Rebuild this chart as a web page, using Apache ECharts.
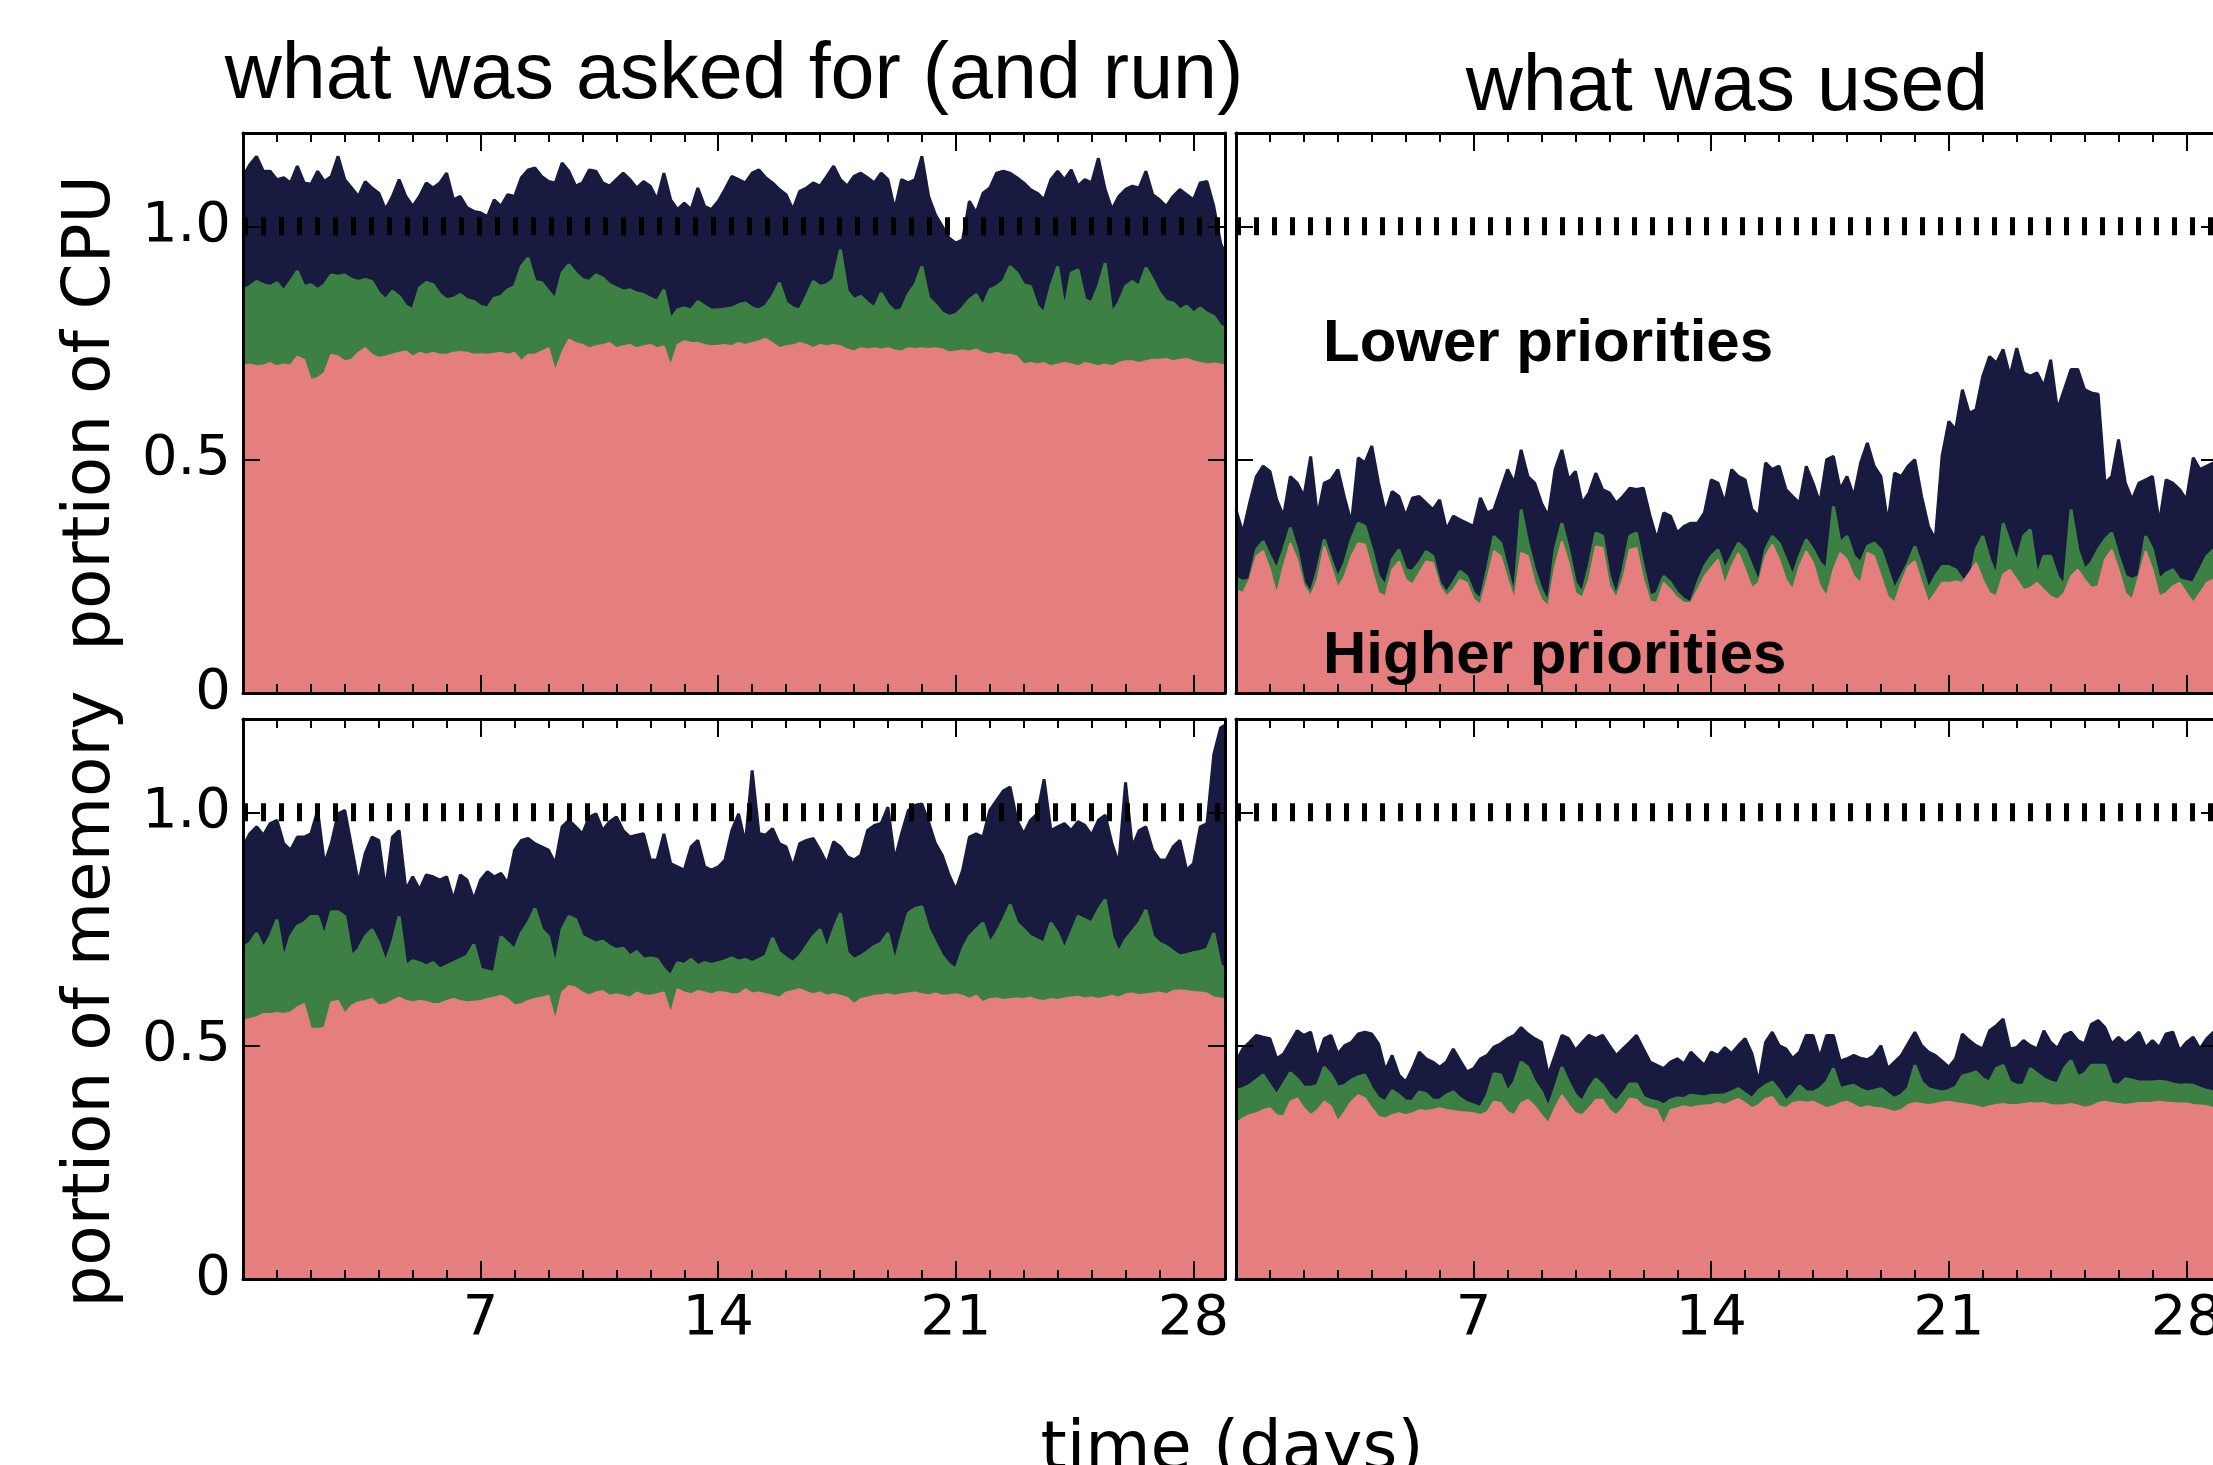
<!DOCTYPE html>
<html>
<head>
<meta charset="utf-8">
<script src="https://cdn.jsdelivr.net/npm/echarts@6/dist/echarts.min.js"></script>
<style>
html,body{margin:0;padding:0;background:#fff;overflow:hidden;}
#c{width:2213px;height:1465px;}
</style>
</head>
<body>
<div id="c"></div>
<script>
// ---------------- DATA ----------------
// sample step of the series: 0.2 day, from day 0 to day 29
const SAMPLE_STEP = 0.2;
const SAMPLE_COUNT = 146;
const days = Array.from({length: SAMPLE_COUNT}, (_, i) => +(i * SAMPLE_STEP).toFixed(1));

const xTickDays = [7, 14, 21, 28];
const yTickValues = [0, 0.5, 1.0];
const yTickLabels = ['0', '0.5', '1.0'];
const referenceLevel = 1.0;

const panelTitles = ['what was asked for (and run)', 'what was used'];
const rowLabels = ['portion of CPU', 'portion of memory'];
const xLabel = 'time (days)';
const bandLabels = ['Lower priorities', 'Higher priorities'];

// Top-left: CPU asked for — cumulative tops of each band
const cpuAskedLow = [
1.107,1.132,1.15,1.118,1.118,1.10,1.104,1.093,1.129,1.093,
1.09,1.118,1.096,1.107,1.15,1.1,1.082,1.064,1.096,1.082,
1.071,1.036,1.064,1.1,1.064,1.043,1.064,1.093,1.082,1.093,
1.114,1.057,1.064,1.04,1.032,1.029,1.021,1.057,1.043,1.068,
1.064,1.104,1.121,1.125,1.107,1.096,1.093,1.136,1.118,1.086,
1.093,1.121,1.118,1.093,1.086,1.1,1.114,1.1,1.082,1.096,
1.086,1.057,1.114,1.057,1.036,1.05,1.036,1.082,1.043,1.036,
1.054,1.079,1.107,1.1,1.093,1.114,1.121,1.104,1.093,1.079,
1.068,1.036,1.075,1.082,1.093,1.086,1.107,1.129,1.1,1.086,
1.107,1.114,1.104,1.093,1.114,1.1,1.036,1.1,1.093,1.1,
1.15,1.064,1.025,1.0,0.975,0.964,0.971,1.054,1.029,1.071,
1.082,1.114,1.118,1.114,1.104,1.093,1.079,1.071,1.057,1.1,
1.118,1.1,1.121,1.086,1.1,1.093,1.146,1.079,1.036,1.064,
1.079,1.086,1.082,1.118,1.068,1.057,1.043,1.064,1.079,1.068,
1.057,1.093,1.096,1.043,0.964,0.929];
const cpuAskedMid = [
0.864,0.871,0.882,0.875,0.871,0.879,0.861,0.882,0.904,0.871,
0.875,0.864,0.875,0.896,0.893,0.896,0.886,0.882,0.886,0.882,
0.857,0.843,0.861,0.85,0.829,0.821,0.868,0.88,0.875,0.854,
0.843,0.846,0.854,0.843,0.839,0.829,0.825,0.846,0.85,0.864,
0.871,0.914,0.932,0.882,0.879,0.861,0.843,0.9,0.918,0.9,
0.886,0.882,0.896,0.889,0.875,0.868,0.861,0.864,0.857,0.854,
0.846,0.839,0.864,0.8,0.821,0.825,0.821,0.839,0.829,0.82,
0.821,0.823,0.825,0.832,0.836,0.825,0.821,0.829,0.85,0.879,
0.836,0.825,0.821,0.85,0.882,0.871,0.875,0.886,0.95,0.861,
0.843,0.85,0.836,0.825,0.857,0.832,0.818,0.821,0.854,0.875,
0.914,0.846,0.832,0.814,0.807,0.811,0.825,0.843,0.854,0.829,
0.864,0.871,0.882,0.914,0.9,0.875,0.871,0.829,0.814,0.871,
0.914,0.821,0.9,0.907,0.843,0.836,0.871,0.921,0.814,0.836,
0.871,0.882,0.871,0.911,0.886,0.857,0.839,0.836,0.821,0.829,
0.814,0.825,0.814,0.807,0.786,0.779];
const cpuAskedHigh = [
0.701,0.704,0.7,0.702,0.707,0.7,0.704,0.702,0.721,0.714,
0.671,0.675,0.686,0.725,0.721,0.711,0.714,0.729,0.739,0.725,
0.718,0.721,0.725,0.729,0.732,0.721,0.729,0.725,0.729,0.725,
0.725,0.729,0.731,0.729,0.725,0.726,0.725,0.727,0.729,0.725,
0.729,0.711,0.725,0.725,0.732,0.739,0.689,0.729,0.757,0.75,
0.746,0.739,0.743,0.746,0.75,0.739,0.743,0.746,0.739,0.743,
0.746,0.739,0.743,0.7,0.746,0.754,0.75,0.75,0.746,0.743,
0.744,0.746,0.743,0.75,0.746,0.75,0.754,0.759,0.75,0.739,
0.743,0.745,0.75,0.746,0.739,0.746,0.743,0.746,0.743,0.736,
0.732,0.739,0.736,0.739,0.736,0.739,0.734,0.732,0.739,0.737,
0.739,0.737,0.739,0.736,0.73,0.732,0.734,0.732,0.736,0.729,
0.725,0.729,0.725,0.725,0.721,0.704,0.707,0.704,0.707,0.7,
0.704,0.707,0.704,0.7,0.707,0.704,0.7,0.704,0.7,0.707,
0.711,0.711,0.707,0.711,0.714,0.714,0.716,0.711,0.714,0.716,
0.711,0.707,0.704,0.706,0.704,0.701];

// Top-right: CPU used
const cpuUsedLow = [
0.393,0.343,0.407,0.464,0.486,0.475,0.414,0.379,0.464,0.45,
0.421,0.507,0.379,0.45,0.457,0.479,0.418,0.364,0.504,0.493,
0.529,0.45,0.386,0.432,0.421,0.379,0.418,0.421,0.407,0.393,
0.414,0.35,0.379,0.371,0.364,0.357,0.418,0.386,0.393,0.436,
0.479,0.45,0.521,0.464,0.45,0.407,0.379,0.479,0.521,0.457,
0.475,0.407,0.429,0.471,0.436,0.429,0.407,0.421,0.439,0.436,
0.439,0.379,0.329,0.386,0.379,0.343,0.357,0.364,0.364,0.386,
0.457,0.45,0.407,0.479,0.464,0.457,0.393,0.379,0.493,0.479,
0.486,0.436,0.421,0.407,0.486,0.45,0.407,0.5,0.507,0.436,
0.464,0.421,0.493,0.536,0.486,0.464,0.364,0.471,0.464,0.486,
0.5,0.421,0.357,0.329,0.507,0.582,0.564,0.65,0.6,0.607,
0.679,0.721,0.707,0.736,0.679,0.739,0.686,0.679,0.686,0.657,
0.714,0.607,0.65,0.693,0.693,0.65,0.643,0.64,0.45,0.464,
0.543,0.45,0.414,0.45,0.457,0.464,0.364,0.457,0.45,0.436,
0.414,0.504,0.479,0.486,0.493,0.464];
const cpuUsedMid = [
0.246,0.239,0.243,0.307,0.325,0.293,0.264,0.307,0.354,0.307,
0.236,0.214,0.264,0.329,0.286,0.246,0.279,0.329,0.364,0.357,
0.307,0.25,0.229,0.286,0.307,0.264,0.261,0.279,0.303,0.293,
0.236,0.214,0.236,0.261,0.25,0.214,0.2,0.264,0.336,0.321,
0.264,0.207,0.393,0.321,0.264,0.221,0.193,0.307,0.364,0.307,
0.236,0.214,0.271,0.343,0.336,0.25,0.207,0.264,0.336,0.343,
0.271,0.207,0.214,0.25,0.236,0.214,0.2,0.193,0.236,0.271,
0.293,0.307,0.264,0.293,0.321,0.307,0.271,0.236,0.307,0.336,
0.321,0.286,0.25,0.293,0.329,0.307,0.279,0.264,0.4,0.321,
0.336,0.293,0.279,0.314,0.321,0.307,0.264,0.221,0.25,0.279,
0.314,0.271,0.221,0.25,0.271,0.271,0.264,0.243,0.229,0.307,
0.336,0.286,0.25,0.364,0.321,0.279,0.336,0.35,0.25,0.293,
0.293,0.25,0.229,0.393,0.307,0.264,0.279,0.307,0.329,0.343,
0.293,0.25,0.243,0.25,0.336,0.307,0.243,0.257,0.264,0.243,
0.239,0.236,0.264,0.293,0.307,0.293];
const cpuUsedHigh = [
0.221,0.214,0.243,0.293,0.304,0.264,0.211,0.271,0.321,0.286,
0.229,0.207,0.243,0.314,0.271,0.225,0.25,0.293,0.321,0.318,
0.264,0.214,0.207,0.264,0.282,0.243,0.232,0.257,0.282,0.279,
0.229,0.207,0.221,0.243,0.236,0.2,0.189,0.243,0.304,0.293,
0.243,0.2,0.3,0.293,0.236,0.2,0.186,0.271,0.325,0.279,
0.214,0.204,0.243,0.314,0.311,0.229,0.204,0.243,0.307,0.311,
0.243,0.196,0.193,0.236,0.221,0.204,0.193,0.193,0.221,0.25,
0.268,0.286,0.232,0.271,0.3,0.264,0.225,0.236,0.293,0.318,
0.286,0.243,0.221,0.271,0.304,0.279,0.229,0.207,0.264,0.3,
0.286,0.25,0.236,0.3,0.293,0.25,0.207,0.193,0.236,0.271,
0.282,0.236,0.193,0.214,0.236,0.236,0.239,0.236,0.257,0.279,
0.243,0.214,0.207,0.254,0.264,0.243,0.221,0.225,0.236,0.221,
0.207,0.2,0.214,0.25,0.264,0.243,0.225,0.229,0.286,0.307,
0.264,0.214,0.2,0.25,0.304,0.264,0.207,0.214,0.229,0.236,
0.214,0.193,0.214,0.236,0.243,0.236];

// Bottom-left: memory asked for
const memAskedLow = [
0.926,0.954,0.969,0.951,0.976,0.983,0.933,0.919,0.947,0.947,
0.954,1.004,0.89,0.933,0.997,1.004,0.926,0.848,0.912,0.947,
0.94,0.834,0.947,0.961,0.834,0.862,0.834,0.866,0.862,0.855,
0.862,0.813,0.866,0.855,0.813,0.855,0.873,0.862,0.869,0.848,
0.919,0.94,0.944,0.933,0.926,0.919,0.89,0.969,0.983,0.969,
0.954,0.99,0.997,0.961,0.98,0.99,0.961,0.947,0.951,0.954,
0.898,0.898,0.954,0.89,0.883,0.876,0.926,0.94,0.883,0.876,
0.883,0.898,0.961,0.997,0.933,1.09,0.955,0.951,0.965,0.933,
0.926,0.883,0.933,0.94,0.944,0.919,0.89,0.937,0.926,0.905,
0.898,0.908,0.961,0.972,0.976,1.011,0.898,0.954,1.004,1.015,
1.018,0.979,0.933,0.908,0.866,0.834,0.876,0.947,0.954,0.947,
1.004,1.025,1.046,1.054,0.983,0.954,0.983,0.997,1.071,0.961,
0.969,0.976,0.961,0.98,0.972,0.951,0.983,0.994,0.933,0.89,
1.064,0.926,0.961,0.969,0.919,0.898,0.898,0.926,0.94,0.876,
0.89,0.969,0.976,1.124,1.181,1.19];
const memAskedMid = [
0.709,0.72,0.741,0.709,0.734,0.77,0.685,0.734,0.756,0.763,
0.777,0.777,0.734,0.787,0.787,0.777,0.692,0.706,0.734,0.749,
0.72,0.678,0.72,0.777,0.671,0.682,0.678,0.671,0.678,0.664,
0.671,0.678,0.685,0.692,0.717,0.664,0.66,0.657,0.734,0.72,
0.706,0.741,0.763,0.794,0.749,0.734,0.671,0.749,0.777,0.77,
0.734,0.727,0.72,0.724,0.713,0.706,0.709,0.692,0.702,0.685,
0.688,0.685,0.664,0.649,0.678,0.674,0.685,0.671,0.678,0.674,
0.678,0.682,0.688,0.681,0.685,0.678,0.685,0.692,0.731,0.699,
0.688,0.678,0.692,0.713,0.734,0.749,0.706,0.749,0.784,0.699,
0.685,0.692,0.702,0.713,0.72,0.741,0.678,0.734,0.784,0.794,
0.798,0.749,0.72,0.692,0.674,0.664,0.706,0.734,0.749,0.763,
0.72,0.741,0.77,0.802,0.763,0.749,0.734,0.727,0.72,0.763,
0.741,0.706,0.741,0.777,0.77,0.763,0.791,0.813,0.734,0.699,
0.727,0.745,0.763,0.791,0.734,0.72,0.713,0.702,0.692,0.695,
0.699,0.702,0.706,0.741,0.671,0.664];
const memAskedHigh = [
0.554,0.557,0.561,0.568,0.568,0.57,0.568,0.571,0.582,0.589,
0.536,0.536,0.539,0.593,0.596,0.568,0.586,0.593,0.596,0.6,
0.586,0.589,0.596,0.603,0.596,0.593,0.596,0.594,0.589,0.59,
0.596,0.6,0.596,0.593,0.594,0.596,0.6,0.603,0.607,0.6,
0.586,0.589,0.596,0.6,0.603,0.607,0.554,0.614,0.628,0.624,
0.614,0.607,0.614,0.617,0.607,0.61,0.607,0.603,0.614,0.608,
0.607,0.61,0.614,0.568,0.621,0.614,0.61,0.617,0.614,0.61,
0.615,0.614,0.61,0.61,0.621,0.612,0.614,0.61,0.607,0.603,
0.614,0.617,0.621,0.615,0.61,0.614,0.607,0.61,0.607,0.603,
0.589,0.6,0.603,0.607,0.608,0.61,0.607,0.61,0.612,0.614,
0.61,0.608,0.612,0.607,0.608,0.61,0.607,0.6,0.607,0.593,
0.6,0.601,0.598,0.6,0.601,0.6,0.603,0.598,0.596,0.6,
0.598,0.601,0.603,0.605,0.601,0.603,0.6,0.603,0.607,0.603,
0.61,0.612,0.608,0.61,0.612,0.614,0.61,0.617,0.619,0.617,
0.615,0.614,0.612,0.603,0.601,0.6];

// Bottom-right: memory used
const memUsedLow = [
0.465,0.493,0.507,0.522,0.518,0.515,0.472,0.482,0.507,0.532,
0.522,0.529,0.472,0.515,0.522,0.482,0.5,0.507,0.525,0.529,
0.525,0.504,0.447,0.479,0.437,0.422,0.451,0.486,0.472,0.465,
0.454,0.465,0.493,0.468,0.444,0.451,0.472,0.479,0.497,0.504,
0.515,0.522,0.539,0.525,0.515,0.507,0.437,0.479,0.522,0.515,
0.49,0.507,0.522,0.515,0.522,0.5,0.479,0.493,0.507,0.522,
0.493,0.465,0.458,0.451,0.465,0.472,0.461,0.486,0.472,0.458,
0.486,0.479,0.496,0.483,0.5,0.515,0.483,0.422,0.507,0.529,
0.5,0.493,0.473,0.486,0.522,0.522,0.475,0.522,0.522,0.467,
0.472,0.479,0.473,0.47,0.479,0.5,0.451,0.465,0.479,0.504,
0.529,0.5,0.486,0.479,0.467,0.454,0.472,0.525,0.511,0.5,
0.493,0.532,0.543,0.557,0.493,0.496,0.511,0.5,0.493,0.532,
0.507,0.494,0.522,0.529,0.511,0.504,0.546,0.554,0.539,0.504,
0.518,0.504,0.515,0.529,0.496,0.511,0.496,0.525,0.529,0.489,
0.507,0.518,0.493,0.515,0.529,0.507];
const memUsedMid = [
0.404,0.408,0.415,0.426,0.437,0.415,0.394,0.418,0.442,0.429,
0.411,0.411,0.415,0.454,0.437,0.411,0.415,0.426,0.433,0.437,
0.408,0.387,0.38,0.404,0.394,0.381,0.381,0.401,0.397,0.383,
0.383,0.394,0.401,0.387,0.378,0.373,0.367,0.394,0.44,0.437,
0.401,0.422,0.465,0.454,0.422,0.401,0.366,0.408,0.454,0.422,
0.394,0.38,0.408,0.429,0.415,0.394,0.38,0.397,0.418,0.418,
0.39,0.383,0.38,0.373,0.383,0.388,0.387,0.394,0.392,0.39,
0.394,0.394,0.395,0.401,0.408,0.397,0.387,0.404,0.415,0.422,
0.404,0.381,0.394,0.414,0.401,0.4,0.408,0.422,0.451,0.408,
0.412,0.415,0.406,0.401,0.404,0.408,0.397,0.387,0.394,0.408,
0.458,0.422,0.408,0.404,0.401,0.404,0.411,0.435,0.439,0.444,
0.429,0.422,0.451,0.458,0.422,0.415,0.415,0.451,0.44,0.429,
0.422,0.418,0.451,0.468,0.433,0.44,0.458,0.458,0.458,0.418,
0.415,0.429,0.426,0.422,0.422,0.422,0.424,0.422,0.418,0.415,
0.416,0.415,0.409,0.404,0.401,0.401];
const memUsedHigh = [
0.334,0.344,0.351,0.355,0.362,0.366,0.351,0.348,0.38,0.387,
0.366,0.351,0.362,0.38,0.37,0.337,0.358,0.38,0.394,0.387,
0.366,0.348,0.344,0.351,0.355,0.351,0.355,0.362,0.36,0.362,
0.366,0.362,0.36,0.358,0.357,0.355,0.351,0.358,0.38,0.377,
0.358,0.351,0.377,0.384,0.37,0.351,0.334,0.366,0.394,0.373,
0.355,0.351,0.366,0.384,0.384,0.362,0.351,0.366,0.387,0.384,
0.37,0.366,0.362,0.33,0.362,0.366,0.37,0.367,0.37,0.372,
0.373,0.377,0.373,0.38,0.386,0.377,0.366,0.373,0.386,0.39,
0.37,0.366,0.377,0.38,0.378,0.38,0.373,0.366,0.37,0.377,
0.38,0.373,0.366,0.37,0.367,0.366,0.362,0.358,0.362,0.373,
0.377,0.375,0.373,0.375,0.378,0.38,0.377,0.375,0.373,0.37,
0.366,0.37,0.373,0.375,0.373,0.373,0.375,0.377,0.376,0.377,
0.373,0.372,0.373,0.375,0.372,0.367,0.37,0.377,0.38,0.377,
0.375,0.373,0.375,0.377,0.377,0.378,0.38,0.378,0.377,0.376,
0.376,0.373,0.372,0.37,0.366,0.366];

// ---------------- CHART ----------------
const NAVY = '#181a40', GREEN = '#3c8043', PINK = '#e57e7f', INK = '#000';
const X_MAX = 28.93, Y_MAX = 1.2;
const PANELS = [
  {low: cpuAskedLow, mid: cpuAskedMid, high: cpuAskedHigh},
  {low: cpuUsedLow,  mid: cpuUsedMid,  high: cpuUsedHigh},
  {low: memAskedLow, mid: memAskedMid, high: memAskedHigh},
  {low: memUsedLow,  mid: memUsedMid,  high: memUsedHigh}
];
const GRID_BOXES = [
  {left: 243,  top: 133, width: 982, height: 560},
  {left: 1236, top: 133, width: 982, height: 560},
  {left: 243,  top: 719, width: 982, height: 560},
  {left: 1236, top: 719, width: 982, height: 560}
];
const TICK_FONT = {fontFamily: 'DejaVu Sans', fontSize: 56, color: INK};

function xFmt(v) { return xTickDays.indexOf(Math.round(v * 1000) / 1000) >= 0 ? String(v) : ''; }
function yFmt(v) {
  for (let k = 0; k < yTickValues.length; k++) if (Math.abs(v - yTickValues[k]) < 1e-9) return yTickLabels[k];
  return '';
}
function xAxisDef(i, pos, showLabel) {
  return {
    gridIndex: i, type: 'value', min: 0, max: X_MAX, interval: 7, position: pos, z: 10,
    axisLine: {show: true, onZero: false, lineStyle: {color: INK, width: 3}},
    axisTick: {show: true, inside: true, length: 18, lineStyle: {color: INK, width: 2}},
    minorTick: {show: true, splitNumber: 7, length: 9, lineStyle: {color: INK, width: 2}},
    splitLine: {show: false}, minorSplitLine: {show: false},
    axisLabel: Object.assign({show: showLabel, margin: 12, formatter: xFmt}, TICK_FONT)
  };
}
function yAxisDef(i, pos, showLabel) {
  return {
    gridIndex: i, type: 'value', min: 0, max: Y_MAX, interval: 0.5, position: pos, z: 10,
    axisLine: {show: true, onZero: false, lineStyle: {color: INK, width: 3}},
    axisTick: {show: true, inside: true, length: 17, lineStyle: {color: INK, width: 2}},
    splitLine: {show: false},
    axisLabel: Object.assign({show: showLabel, margin: 12, formatter: yFmt}, TICK_FONT)
  };
}

const grid = [], xAxis = [], yAxis = [], series = [];
const pair = arr => arr.map((v, k) => [days[k], v]);
PANELS.forEach((p, i) => {
  grid.push(Object.assign({containLabel: false, outerBoundsMode: 'none'}, GRID_BOXES[i]));
  xAxis.push(xAxisDef(i, 'bottom', i >= 2));
  xAxis.push(xAxisDef(i, 'top', false));
  yAxis.push(yAxisDef(i, 'left', i % 2 === 0));
  yAxis.push(yAxisDef(i, 'right', false));
  const common = {type: 'line', xAxisIndex: 2 * i, yAxisIndex: 2 * i, symbol: 'none', showSymbol: false,
                  smooth: false, silent: true, animation: false};
  series.push(Object.assign({}, common, {name: 'low ' + i, data: pair(p.low), z: 2,
    lineStyle: {color: NAVY, width: 3}, areaStyle: {color: NAVY, opacity: 1, origin: 'start'}}));
  series.push(Object.assign({}, common, {name: 'mid ' + i, data: pair(p.mid), z: 3,
    lineStyle: {color: GREEN, width: 3}, areaStyle: {color: GREEN, opacity: 1, origin: 'start'}}));
  series.push(Object.assign({}, common, {name: 'high ' + i, data: pair(p.high), z: 4,
    lineStyle: {color: PINK, width: 2}, areaStyle: {color: PINK, opacity: 1, origin: 'start'}}));
  series.push(Object.assign({}, common, {name: 'ref ' + i, data: [[0, referenceLevel], [X_MAX, referenceLevel]], z: 6,
    lineStyle: {color: INK, width: 18, type: [5, 13], cap: 'butt'}}));
});

const graphic = [
  {type: 'text', x: 734, y: 76, style: {text: panelTitles[0], font: '79px "Liberation Sans"', fill: INK, align: 'center', verticalAlign: 'middle'}},
  {type: 'text', x: 1727, y: 88, style: {text: panelTitles[1], font: '79px "Liberation Sans"', fill: INK, align: 'center', verticalAlign: 'middle'}},
  {type: 'text', x: 92, y: 413, rotation: Math.PI / 2, style: {text: rowLabels[0], font: '66px "DejaVu Sans"', fill: INK, align: 'center', verticalAlign: 'middle'}},
  {type: 'text', x: 92, y: 999, rotation: Math.PI / 2, style: {text: rowLabels[1], font: '66px "DejaVu Sans"', fill: INK, align: 'center', verticalAlign: 'middle'}},
  {type: 'text', x: 1232, y: 1452, style: {text: xLabel, font: '67px "DejaVu Sans"', fill: INK, align: 'center', verticalAlign: 'middle'}},
  {type: 'text', x: 1323, y: 344, z: 20, style: {text: bandLabels[0], font: 'bold 60px "Liberation Sans"', fill: INK, align: 'left', verticalAlign: 'middle'}},
  {type: 'text', x: 1323, y: 656, z: 20, style: {text: bandLabels[1], font: 'bold 60px "Liberation Sans"', fill: INK, align: 'left', verticalAlign: 'middle'}}
];

const chart = echarts.init(document.getElementById('c'), null, {renderer: 'canvas', width: 2213, height: 1465});
chart.setOption({
  backgroundColor: '#fff',
  animation: false,
  grid: grid, xAxis: xAxis, yAxis: yAxis, series: series, graphic: graphic
});
</script>
</body>
</html>
